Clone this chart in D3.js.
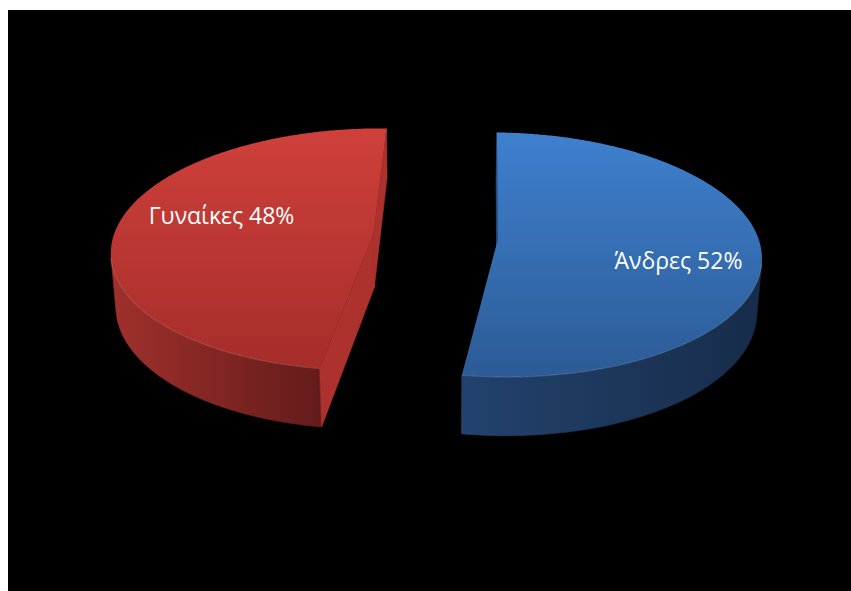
<!DOCTYPE html>
<html>
<head>
<meta charset="utf-8">
<script src="https://cdn.jsdelivr.net/npm/d3@7"></script>
<style>
  html, body { margin: 0; padding: 0; background: #ffffff; }
  svg { display: block; }
</style>
</head>
<body>
<svg id="chart" width="851" height="591"></svg>
<script>
// Gender split shown as an exploded 3-D pie
const categories = ["Άνδρες", "Γυναίκες"];
const percentages = [52, 48];

// face colours per slice: top face (far → near), outer wall (left → right), cut face
const topColors  = [["#3f80cf", "#2c5b96"], ["#cf403b", "#a62d2a"]];
const sideColors = [["#22426d", "#172c4a"], ["#a0302c", "#641c1b"]];
const cutColors  = ["#28538e", "#ad322e"];

const svg = d3.select("#chart");

// chart area
svg.append("rect")
  .attr("x", 8).attr("y", 10)
  .attr("width", 843).attr("height", 581)
  .attr("fill", "#000000");

// ---- 3-D set-up -------------------------------------------------------
const rad = Math.PI / 180;
const cam = {
  cx: 435.5, cy: 236.5,     // screen position of the pie centre (top face)
  R: 260,                   // pie radius
  H: 61,                    // pie thickness
  explode: 62.5,            // distance each slice is pulled out
  tilt: 27.4 * rad,         // elevation of the viewer
  F: 1810,                  // viewer distance (perspective)
  firstSlice: 1.5 * rad     // rotation of the first slice
};
const sinT = Math.sin(cam.tilt), cosT = Math.cos(cam.tilt);
const eye = [0, cam.F * sinT, cam.F * cosT];   // viewer position in world space

function project([x, y, z]) {
  const vy = y * cosT - z * sinT;
  const vz = y * sinT + z * cosT;
  const s = cam.F / (cam.F - vz);
  return [cam.cx + x * s, cam.cy - vy * s];
}

const pie = d3.pie().sort(null).value(d => d)
  .startAngle(cam.firstSlice).endAngle(cam.firstSlice + 2 * Math.PI);
const arcs = pie(percentages);

const defs = svg.append("defs");
const g = svg.append("g");
const line = d3.line();

arcs.forEach((a, i) => {
  const mid = (a.startAngle + a.endAngle) / 2;
  const ox = cam.explode * Math.sin(mid);
  const oz = -cam.explode * Math.cos(mid);
  const rim = (t, y, r = cam.R) => [ox + r * Math.sin(t), y, oz - r * Math.cos(t)];
  const visible = (n, p) =>
    n[0] * (eye[0] - p[0]) + n[1] * (eye[1] - p[1]) + n[2] * (eye[2] - p[2]) > 0;

  const steps = Math.ceil((a.endAngle - a.startAngle) / (0.5 * rad));
  const ts = d3.range(steps + 1).map(k => a.startAngle + (a.endAngle - a.startAngle) * k / steps);

  // top face outline
  const topPts = [project([ox, 0, oz])].concat(ts.map(t => project(rim(t, 0))));
  const ys = topPts.map(p => p[1]);
  const xsAll = [];

  // outer wall: keep only the runs of segments that face the viewer
  const runs = [];
  let cur = null;
  for (let k = 0; k < steps; k++) {
    const tm = (ts[k] + ts[k + 1]) / 2;
    const n = [Math.sin(tm), 0, -Math.cos(tm)];
    const p = rim(tm, -cam.H / 2);
    if (visible(n, p)) {
      if (!cur) { cur = [ts[k]]; runs.push(cur); }
      cur.push(ts[k + 1]);
    } else cur = null;
  }
  runs.forEach(run => run.forEach(t => xsAll.push(project(rim(t, 0))[0])));

  // gradients
  const gTop = defs.append("linearGradient").attr("id", "top" + i)
    .attr("gradientUnits", "userSpaceOnUse")
    .attr("x1", 0).attr("x2", 0)
    .attr("y1", d3.min(ys)).attr("y2", d3.max(ys));
  gTop.append("stop").attr("offset", 0).attr("stop-color", topColors[i][0]);
  gTop.append("stop").attr("offset", 1).attr("stop-color", topColors[i][1]);

  const gSide = defs.append("linearGradient").attr("id", "side" + i)
    .attr("gradientUnits", "userSpaceOnUse")
    .attr("y1", 0).attr("y2", 0)
    .attr("x1", d3.min(xsAll) ?? 0).attr("x2", d3.max(xsAll) ?? 1);
  gSide.append("stop").attr("offset", 0).attr("stop-color", sideColors[i][0]);
  gSide.append("stop").attr("offset", 1).attr("stop-color", sideColors[i][1]);

  // outer wall
  runs.forEach(run => {
    const upper = run.map(t => project(rim(t, 0)));
    const lower = run.slice().reverse().map(t => project(rim(t, -cam.H)));
    g.append("path")
      .attr("d", line(upper.concat(lower)) + "Z")
      .attr("fill", `url(#side${i})`)
      .attr("stroke", `url(#side${i})`).attr("stroke-width", 0.6);
  });

  // radial cut faces
  [[a.startAngle, -1], [a.endAngle, 1]].forEach(([t, sgn]) => {
    const n = [sgn * Math.cos(t), 0, sgn * Math.sin(t)];
    const p = [ox, -cam.H / 2, oz];
    if (!visible(n, p)) return;
    const quad = [[ox, 0, oz], rim(t, 0), rim(t, -cam.H), [ox, -cam.H, oz]].map(project);
    g.append("path")
      .attr("d", line(quad) + "Z")
      .attr("fill", cutColors[i])
      .attr("stroke", cutColors[i]).attr("stroke-width", 0.6);
  });

  // top face
  g.append("path")
    .attr("d", line(topPts) + "Z")
    .attr("fill", `url(#top${i})`);

  // soft rim where the top meets the wall
  runs.forEach(run => {
    g.append("path")
      .attr("d", line(run.map(t => project(rim(t, 0)))))
      .attr("fill", "none")
      .attr("stroke", "rgba(255,255,255,0.15)")
      .attr("stroke-width", 1.2);
  });

  // label on the top face
  const lt = mid + 9.5 * rad;
  const [lx, ly] = project(rim(lt, 0, cam.R * 0.66));
  g.append("text")
    .attr("x", lx + 9).attr("y", ly)
    .attr("text-anchor", "middle")
    .attr("dominant-baseline", "central")
    .attr("fill", "#ffffff")
    .attr("font-family", "'Open Sans', 'Noto Sans', sans-serif")
    .attr("font-size", 23)
    .text(`${categories[i]} ${a.data}%`);
});
</script>
</body>
</html>
